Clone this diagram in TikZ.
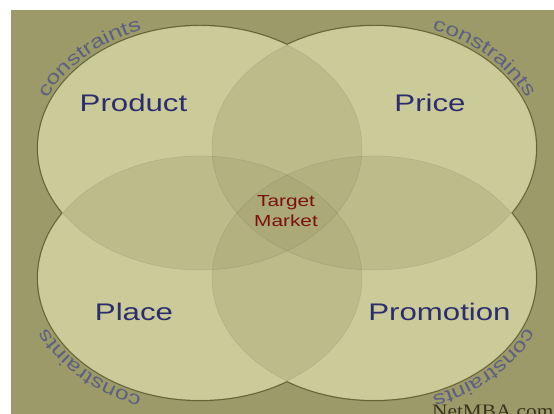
\documentclass[tikz,border=0pt]{standalone}
\usepackage{fontspec}
\setmainfont{Liberation Sans}
\newfontfamily\labelfont[FakeStretch=1.3]{Liberation Sans}
\newfontfamily\arcfontfam[FakeStretch=1.3]{Liberation Sans}
\newfontfamily\markfont[FakeStretch=1.12]{Liberation Serif}
\usetikzlibrary{decorations.text,calc}

\definecolor{bgolive}{RGB}{156,154,104}
\definecolor{lobe}{RGB}{225,225,175}
\definecolor{rimline}{RGB}{104,102,56}
\definecolor{navy}{RGB}{45,45,110}
\definecolor{slate}{RGB}{94,96,128}
\definecolor{maroon}{RGB}{122,16,16}
\definecolor{markink}{RGB}{55,53,28}

\tikzset{
  rim/.style={draw=rimline, line width=2.4pt},
  lobefill/.style={fill=lobe},
  lobeshade/.style={fill=bgolive, fill opacity=0.306},
  seam/.style={draw=black, draw opacity=0.08, line width=0.6pt},
  mixlabel/.style={anchor=base, inner sep=0pt, text=navy,
    font=\labelfont\fontsize{24}{24}\selectfont},
  centerlabel/.style={align=center, inner sep=0pt, text=maroon,
    font=\labelfont\fontsize{16}{20}\selectfont},
  arctext/.style={decorate, decoration={text along path,
    text={|\arcfontfam\fontsize{19}{19}\selectfont|constraints},
    text align=center, text color=slate}}
}

\begin{document}
\begin{tikzpicture}[x=1pt,y=1pt]
  \useasboundingbox (0,0) rectangle (554,414);
  \fill[white] (0,0) rectangle (554,414);
  \fill[bgolive] (11,0) rectangle (554,404);

  % centres of the four lobes
  \coordinate (TL) at (200,266);
  \coordinate (TR) at (374,266);
  \coordinate (BL) at (200,136);
  \coordinate (BR) at (374,136);

  % outer rim, half of it covered by the fills below
  \foreach \c in {TL,TR,BL,BR}
    \path[rim] (\c) ellipse [x radius=162pt, y radius=122pt];
  \foreach \c in {TL,TR,BL,BR}
    \path[lobefill] (\c) ellipse [x radius=162pt, y radius=122pt];
  % each lobe darkens what lies beneath it, so overlaps get deeper
  \foreach \c in {TL,TR,BL,BR}
    \path[lobeshade] (\c) ellipse [x radius=162pt, y radius=122pt];
  \foreach \c in {TL,TR,BL,BR}
    \path[seam] (\c) ellipse [x radius=162pt, y radius=122pt];

  % curved captions just outside each lobe
  \path[arctext] ($(TL)+(170:166pt and 126pt)$)
    arc[start angle=170, end angle=100, x radius=166pt, y radius=126pt];
  \path[arctext] ($(TR)+(80:166pt and 126pt)$)
    arc[start angle=80, end angle=10, x radius=166pt, y radius=126pt];
  \path[arctext] ($(BL)+(260:166pt and 126pt)$)
    arc[start angle=260, end angle=190, x radius=166pt, y radius=126pt];
  \path[arctext] ($(BR)+(-10:166pt and 126pt)$)
    arc[start angle=-10, end angle=-80, x radius=166pt, y radius=126pt];

  % lobe labels
  \node[mixlabel] (product)   at (133.5,302) {Product};
  \node[mixlabel] (price)     at (430,302)   {Price};
  \node[mixlabel] (place)     at (134,93)    {Place};
  \node[mixlabel] (promotion) at (439.5,93)  {Promotion};

  \node[centerlabel] (target) at (286,202.5) {Target\\Market};

  \node[anchor=base west, inner sep=0pt, text=markink,
        font=\markfont\fontsize{19}{19}\selectfont] (site) at (432,-4) {NetMBA.com};
\end{tikzpicture}
\end{document}
